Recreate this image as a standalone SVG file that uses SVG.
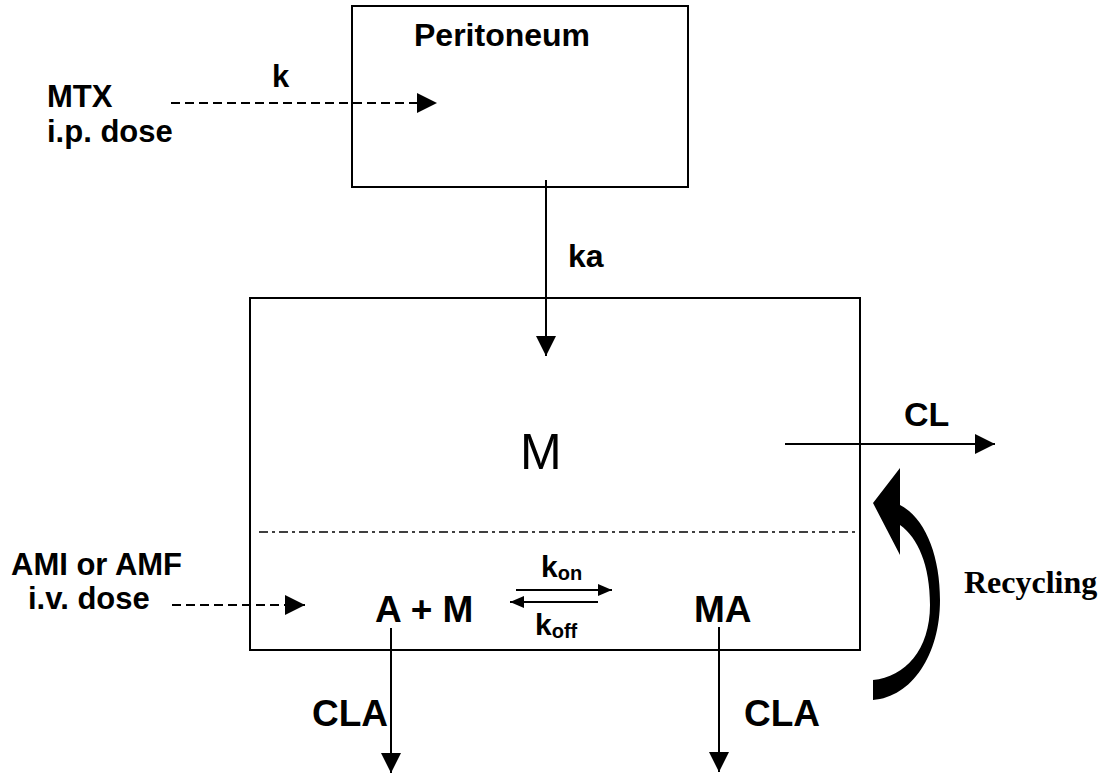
<svg xmlns="http://www.w3.org/2000/svg" width="1107" height="777" viewBox="0 0 1107 777">
<style>
.box{fill:none;stroke:#000;stroke-width:2}
.ln{fill:none;stroke:#000;stroke-width:2}
.dash{stroke-dasharray:9 5}
.dd{fill:none;stroke:#000;stroke-width:1.5;stroke-dasharray:9 4 3 4}
.b{font-family:"Liberation Sans",Arial,sans-serif;font-weight:bold;fill:#000}
.r{font-family:"Liberation Sans",Arial,sans-serif;fill:#000}
.t{font-family:"Liberation Serif","Times New Roman",serif;font-weight:bold;fill:#000}
</style>
<defs>
<marker id="ah" markerUnits="userSpaceOnUse" markerWidth="20" markerHeight="20" refX="20" refY="10" orient="auto">
<path d="M0,0 L20,10 L0,20 Z" fill="#000"/>
</marker>
<marker id="ahs" markerUnits="userSpaceOnUse" markerWidth="14" markerHeight="12" refX="14" refY="6" orient="auto">
<path d="M0,0 L14,6 L0,12 Z" fill="#000"/>
</marker>
</defs>
<g id="peritoneum">
<rect class="box" x="352" y="6" width="336" height="181"/>
<text class="b" x="414" y="46" font-size="32">Peritoneum</text>
</g>
<g id="central">
<rect class="box" x="250" y="298" width="610" height="352"/>
<line class="dd" x1="259" y1="532" x2="856" y2="532"/>
<text class="r" x="520" y="469" font-size="50">M</text>
<text class="b" x="375" y="622" font-size="37">A + M</text>
<text class="b" x="694" y="622" font-size="37">MA</text>
</g>
<g id="mtx-dose">
<text class="b" x="47" y="107" font-size="31">MTX</text>
<text class="b" x="47" y="142" font-size="31">i.p. dose</text>
</g>
<g id="ami-dose">
<text class="b" x="11" y="575" font-size="31">AMI or AMF</text>
<text class="b" x="28" y="609" font-size="31">i.v. dose</text>
</g>
<g id="recycling">
<path d="M900 505 C925 518 940 555 940 600 C940 655 912 697 873 700 L873 680 C905 677 930 650 930 605 C930 565 918 538 900 525 L900 555 L873 503 L900 468 Z" fill="#000"/>
<text class="t" x="964" y="593" font-size="32">Recycling</text>
</g>
<g id="connectors">
<line class="ln dash" x1="171" y1="103" x2="437" y2="103" marker-end="url(#ah)"/>
<text class="b" x="272" y="87" font-size="31">k</text>
<line class="ln" x1="546" y1="180" x2="546" y2="356" marker-end="url(#ah)"/>
<text class="b" x="568" y="267" font-size="32">ka</text>
<line class="ln" x1="785" y1="444" x2="995" y2="444" marker-end="url(#ah)"/>
<text class="b" x="904" y="426" font-size="34">CL</text>
<line class="ln dash" x1="172" y1="605" x2="305" y2="605" marker-end="url(#ah)"/>
<line class="ln" x1="516" y1="590" x2="612" y2="590" marker-end="url(#ahs)"/>
<line class="ln" x1="598" y1="602" x2="510" y2="602" marker-end="url(#ahs)"/>
<text class="b" x="541" y="577" font-size="30">k<tspan font-size="20" dy="3">on</tspan></text>
<text class="b" x="535" y="635" font-size="30">k<tspan font-size="20" dy="3">off</tspan></text>
<line class="ln" x1="391" y1="628" x2="391" y2="773" marker-end="url(#ah)"/>
<text class="b" x="312" y="726" font-size="37">CLA</text>
<line class="ln" x1="719" y1="627" x2="719" y2="772" marker-end="url(#ah)"/>
<text class="b" x="744" y="726" font-size="37">CLA</text>
</g>
</svg>
